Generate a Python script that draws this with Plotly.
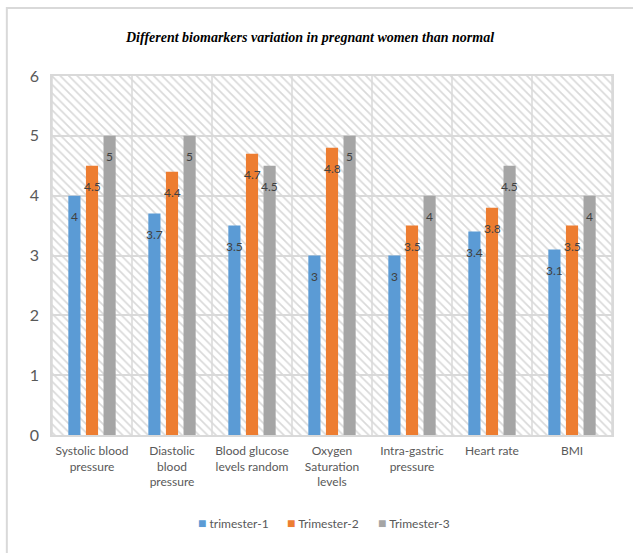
import plotly.graph_objects as go

categories = ["Systolic blood<br>pressure", "Diastolic<br>blood<br>pressure", "Blood glucose<br>levels random",
              "Oxygen<br>Saturation<br>levels", "Intra-gastric<br>pressure", "Heart rate", "BMI"]
trimester1 = [4, 3.7, 3.5, 3, 3, 3.4, 3.1]
trimester2 = [4.5, 4.4, 4.7, 4.8, 3.5, 3.8, 3.5]
trimester3 = [5, 5, 4.5, 5, 4, 4.5, 4]
series_names = ["trimester-1", "Trimester-2", "Trimester-3"]
series_colors = ["#5B9BD5", "#ED7D31", "#A5A5A5"]
y_ticks = [0, 1, 2, 3, 4, 5, 6]
title_text = "Different biomarkers variation in pregnant women than normal"

font_family = "Lato, 'Open Sans', sans-serif"
fig = go.Figure()

# hatched background of plot area (on base axis, drawn underneath)
fig.add_trace(go.Bar(
    x=categories, y=[max(y_ticks)] * len(categories), xaxis="x", width=1,
    marker=dict(color="#d9d9d9", line=dict(width=0),
                pattern=dict(shape="\\", size=6, solidity=0.28, fillmode="replace")),
    showlegend=False, hoverinfo="skip"))

all_series = [trimester1, trimester2, trimester3]
for name, vals, col in zip(series_names, all_series, series_colors):
    fig.add_trace(go.Bar(x=categories, y=vals, name=name, xaxis="x2", showlegend=False,
                         marker=dict(color=col, line=dict(width=0))))

slot = 17.5
annotations = []
for i, vals in enumerate(all_series):
    for c, v in zip(categories, vals):
        annotations.append(dict(x=c, y=v, text=str(v), showarrow=False, xref="x", yref="y",
                                xshift=(i - 1) * slot, yshift=-21,
                                font=dict(size=12, color="#404040", family=font_family)))

annotations.append(dict(text="<b><i>" + title_text + "</i></b>", x=(309 - 52) / 558, y=(435 - 37) / 359,
                        xref="paper", yref="paper", showarrow=False, xanchor="center", yanchor="middle",
                        font=dict(family="'Liberation Serif', 'Times New Roman', serif", size=14, color="#000000")))

# legend entries (square swatch + label)
legend_x = [195, 284, 375]
for name, col, px in zip(series_names, series_colors, legend_x):
    annotations.append(dict(text=f"<span style='color:{col};font-size:14px'>■</span> {name}",
                            x=(px - 52) / 558, y=(435 - 522) / 359, xref="paper", yref="paper",
                            showarrow=False, xanchor="left", yanchor="middle",
                            font=dict(size=12, color="#595959", family=font_family)))

shapes = []
for k in range(len(categories) + 1):
    shapes.append(dict(type="line", xref="x", yref="y", x0=k - 0.5, x1=k - 0.5, y0=0, y1=max(y_ticks),
                       line=dict(color="#d9d9d9", width=1.5), layer="below"))

left = -45 / 558
top = (435 - 8) / 359
fig.update_layout(
    width=633, height=553,
    margin=dict(l=52, r=21, t=76, b=118),
    paper_bgcolor="white", plot_bgcolor="white",
    barmode="group", bargap=0.34, bargroupgap=0.31,
    font=dict(family=font_family, color="#595959"),
    showlegend=False,
    xaxis=dict(range=[-0.5, 6.5], showgrid=False, tickfont=dict(size=12, color="#595959"),
               ticks="", showline=True, linecolor="#d9d9d9", linewidth=1.5, mirror=True,
               ticklabelstandoff=4, categoryorder="array", categoryarray=categories),
    xaxis2=dict(range=[-0.5, 6.5], overlaying="x", visible=False, categoryorder="array",
                categoryarray=categories),
    yaxis=dict(range=[0, 6], tickvals=y_ticks, showgrid=True, gridcolor="#d9d9d9", gridwidth=1.5,
               tickfont=dict(size=16, color="#595959"), ticks="", zeroline=False,
               showline=True, linecolor="#d9d9d9", linewidth=1.5, mirror=True, ticklabelstandoff=8),
    annotations=annotations,
    shapes=shapes + [
        dict(type="rect", xref="paper", yref="paper", x0=left, x1=1.2, y0=-1, y1=top,
             line=dict(color="#d9d9d9", width=2), fillcolor="rgba(0,0,0,0)"),
    ],
)

fig.write_html("out.html")
